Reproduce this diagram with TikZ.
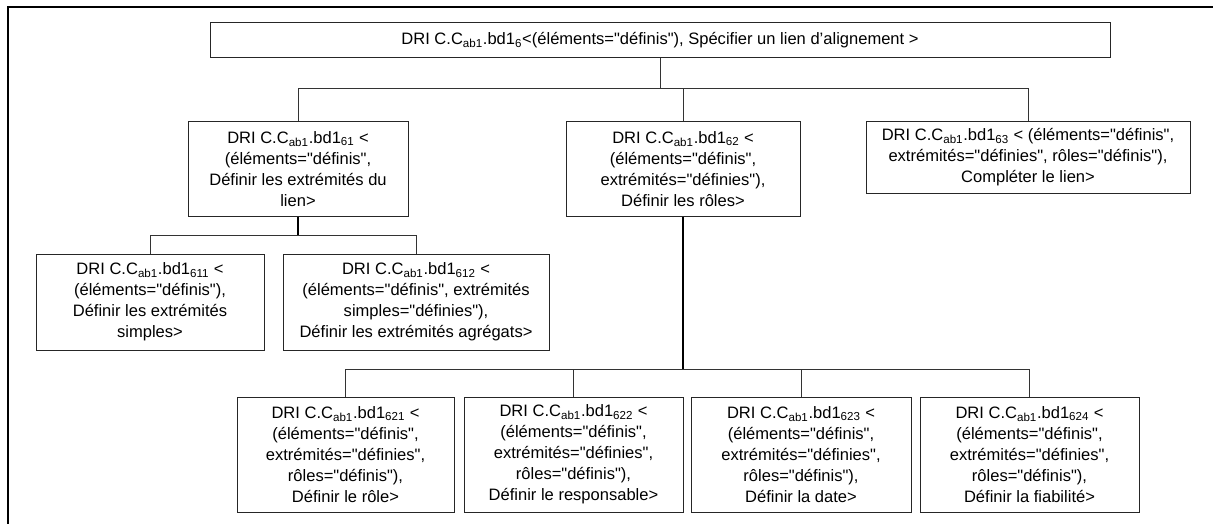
\documentclass[tikz,border=0pt]{standalone}
\usepackage{fontspec}
\setmainfont{Liberation Sans}[Ligatures=TeXReset]
\tikzset{
    drinode/.style={
        rectangle, draw=black!85, line width=0.75pt, align=center, inner sep=1pt,
        font=\fontsize{12.4}{15.75}\selectfont
    },
    link/.style={draw=black!80, line width=0.6pt},
    trunk/.style={draw=black, line width=1.1pt},
    frameline/.style={draw=black, line width=1.3pt}
}
\newcommand{\ix}[1]{\textsubscript{#1}}

\begin{document}
\begin{tikzpicture}[x=0.75pt, y=-0.75pt]
\useasboundingbox (0,0) rectangle (1213,524);

% === FRAME ===
\coordinate (fbl) at (8,524);
\coordinate (ftl) at (8,7);
\coordinate (ftr) at (1213,7);
\draw [frameline] (fbl) -- (ftl) -- (ftr);

% === ROOT ===
\node (top) [drinode, minimum width=675pt, minimum height=26.25pt] at (660,40.5)
    {DRI C.C\ix{ab1}.bd1\ix{6}<(éléments="définis"), Spécifier un lien d’alignement >};

% === LEVEL 1 ===
\node (n61) [drinode, minimum width=165pt, minimum height=70.5pt] at (298,169) {
    DRI C.C\ix{ab1}.bd1\ix{61} <\\(éléments="définis",\\Définir les extrémités du\\lien>
};
\node (n62) [drinode, minimum width=175.5pt, minimum height=70.5pt] at (683,169) {
    DRI C.C\ix{ab1}.bd1\ix{62} <\\(éléments="définis",\\extrémités="définies"),\\Définir les rôles>
};
\node (n63) [drinode, minimum width=243pt, minimum height=53.25pt] at (1028,157.5) {
    DRI C.C\ix{ab1}.bd1\ix{63} < (éléments="définis",\\extrémités="définies", rôles="définis"),\\Compléter le lien>
};

% === LEVEL 2 (under 61) ===
\node (n611) [drinode, minimum width=171pt, minimum height=72pt] at (150,302) {
    DRI C.C\ix{ab1}.bd1\ix{611} <\\(éléments="définis"),\\Définir les extrémités\\simples>
};
\node (n612) [drinode, minimum width=199.5pt, minimum height=72pt] at (416,302) {
    DRI C.C\ix{ab1}.bd1\ix{612} <\\(éléments="définis", extrémités\\simples="définies"),\\Définir les extrémités agrégats>
};

% === LEVEL 2 (under 62) ===
\node (n621) [drinode, minimum width=162.75pt, minimum height=86.25pt] at (345.5,454.5) {
    DRI C.C\ix{ab1}.bd1\ix{621} <\\(éléments="définis",\\extrémités="définies",\\rôles="définis"),\\Définir le rôle>
};
\node (n622) [drinode, minimum width=164.25pt, minimum height=86.25pt] at (573.5,454.5) {
    DRI C.C\ix{ab1}.bd1\ix{622} <\\(éléments="définis",\\extrémités="définies",\\rôles="définis"),\\Définir le responsable>
};
\node (n623) [drinode, minimum width=165pt, minimum height=86.25pt] at (801,454.5) {
    DRI C.C\ix{ab1}.bd1\ix{623} <\\(éléments="définis",\\extrémités="définies",\\rôles="définis"),\\Définir la date>
};
\node (n624) [drinode, minimum width=164.25pt, minimum height=86.25pt] at (1029.5,454.5) {
    DRI C.C\ix{ab1}.bd1\ix{624} <\\(éléments="définis",\\extrémités="définies",\\rôles="définis"),\\Définir la fiabilité>
};

% === TREE LINKS ===
\coordinate (j1) at (660,88);
\draw [link] (top.south) -- (j1);
\draw [link] (n61.north) |- (j1);
\draw [link] (n62.north) |- (j1);
\draw [link] (n63.north) |- (j1);

\coordinate (j2) at (298,235);
\draw [trunk] (n61.south) -- (j2);
\draw [link] (n611.north) |- (j2);
\draw [link] (n612.north) |- (j2);

\coordinate (j3) at (683,369);
\draw [trunk] (n62.south) -- (j3);
\draw [link] (n621.north) |- (j3);
\draw [link] (n622.north) |- (j3);
\draw [link] (n623.north) |- (j3);
\draw [link] (n624.north) |- (j3);

\end{tikzpicture}
\end{document}
